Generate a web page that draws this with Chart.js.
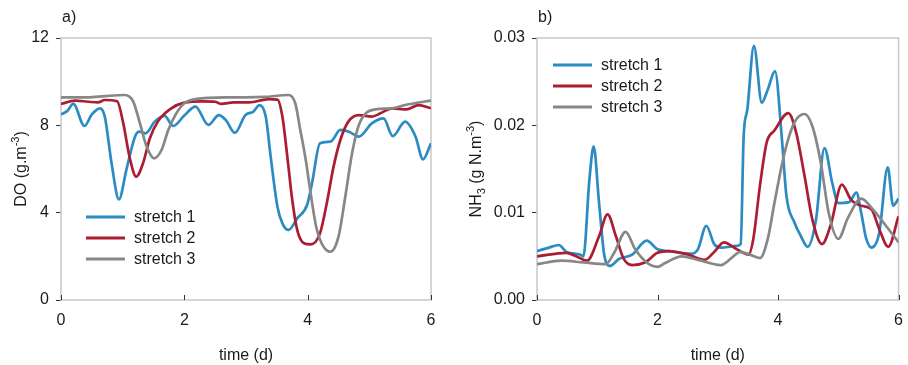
<!DOCTYPE html>
<html>
<head>
<meta charset="utf-8">
<script src="https://cdn.jsdelivr.net/npm/chart.js@4.4.1/dist/chart.umd.min.js"></script>
<style>
  html, body { margin: 0; padding: 0; background: #fff; overflow: hidden; width: 908px; height: 365px; }
  body { position: relative; }
  canvas { position: absolute; top: 0; }
  #chartDO { left: 0; }
  #chartNH3 { left: 454px; }
</style>
</head>
<body>
<canvas id="chartDO" width="454" height="365"></canvas>
<canvas id="chartNH3" width="460" height="365"></canvas>
<script>
const FONT = "'Liberation Sans', Arial, sans-serif";

const seriesNames = ['stretch 1', 'stretch 2', 'stretch 3'];
const seriesColors = ['#2b8bc3', '#ab1e31', '#878787'];

// time (d)
const timeMin = 0, timeMax = 6, timeStep = 2;

// a) DO (g.m-3)
const doMin = 0, doMax = 12, doStep = 4;
const doT1 = [0, 0.1, 0.2, 0.38, 0.5, 0.63, 0.71, 0.82, 0.94, 1.06, 1.2, 1.27, 1.37, 1.52, 1.68, 1.82, 2.0, 2.18, 2.39, 2.56, 2.67, 2.82, 2.99, 3.12, 3.22, 3.32, 3.4, 3.51, 3.59, 3.69, 3.83, 3.99, 4.07, 4.2, 4.37, 4.53, 4.67, 4.83, 5.04, 5.23, 5.38, 5.58, 5.75, 5.87, 6.0];
const doV1 = [8.5, 8.65, 8.98, 7.97, 8.5, 8.78, 8.4, 6.26, 4.61, 5.96, 7.48, 7.71, 7.63, 8.17, 8.43, 7.97, 8.45, 8.86, 8.02, 8.47, 8.25, 7.66, 8.47, 8.63, 8.93, 8.4, 6.57, 4.27, 3.51, 3.21, 3.74, 4.35, 5.34, 7.18, 7.25, 7.79, 7.71, 7.48, 8.09, 8.32, 7.51, 8.17, 7.48, 6.44, 7.18];
const doT2 = [0, 0.23, 0.44, 0.6, 0.71, 0.91, 1.01, 1.11, 1.22, 1.33, 1.44, 1.57, 1.79, 2.0, 2.3, 2.5, 2.6, 2.8, 3.05, 3.37, 3.51, 3.59, 3.67, 3.75, 3.83, 3.94, 4.05, 4.2, 4.31, 4.42, 4.53, 4.66, 4.83, 5.04, 5.18, 5.37, 5.6, 5.8, 6.0];
const doV2 = [8.98, 9.13, 9.08, 9.05, 9.16, 9.1, 8.09, 6.57, 5.65, 6.26, 7.4, 8.17, 8.78, 9.04, 9.1, 9.08, 8.98, 9.05, 9.05, 9.2, 9.18, 8.4, 6.57, 4.58, 3.21, 2.6, 2.55, 3.05, 4.43, 6.11, 7.33, 8.17, 8.47, 8.4, 8.55, 8.78, 8.73, 8.93, 8.78];
const doT3 = [0, 0.44, 0.71, 1.03, 1.17, 1.28, 1.39, 1.51, 1.63, 1.74, 1.87, 2.0, 2.18, 2.77, 3.3, 3.69, 3.8, 3.88, 3.97, 4.04, 4.15, 4.37, 4.5, 4.61, 4.72, 4.83, 4.94, 5.1, 5.37, 5.58, 6.0];
const doV3 = [9.28, 9.28, 9.34, 9.39, 9.1, 8.09, 7.02, 6.49, 6.87, 7.79, 8.55, 9.01, 9.2, 9.28, 9.3, 9.39, 9.0, 7.79, 6.4, 5.04, 3.21, 2.21, 2.9, 4.73, 6.72, 8.02, 8.55, 8.73, 8.78, 8.93, 9.13];

// b) NH3 (g N.m-3)
const nhMin = 0, nhMax = 0.03, nhStep = 0.01;
const nhT1 = [0, 0.2, 0.36, 0.49, 0.71, 0.77, 0.87, 0.94, 1.03, 1.12, 1.21, 1.36, 1.58, 1.82, 2.0, 2.18, 2.56, 2.67, 2.81, 2.94, 3.05, 3.32, 3.38, 3.43, 3.49, 3.6, 3.73, 3.83, 3.95, 4.06, 4.14, 4.27, 4.38, 4.49, 4.63, 4.77, 4.9, 5.0, 5.18, 5.3, 5.38, 5.46, 5.55, 5.68, 5.82, 5.91, 6.0];
const nhV1 = [0.0056, 0.006, 0.0063, 0.0055, 0.0052, 0.005, 0.0138, 0.0176, 0.0111, 0.005, 0.0039, 0.0047, 0.0052, 0.0068, 0.0058, 0.0056, 0.0053, 0.0058, 0.0085, 0.0064, 0.006, 0.0062, 0.0064, 0.0188, 0.0218, 0.0291, 0.0226, 0.0241, 0.0262, 0.0188, 0.0119, 0.0089, 0.0073, 0.0061, 0.0092, 0.0174, 0.0134, 0.0111, 0.0112, 0.0123, 0.01, 0.0071, 0.006, 0.0077, 0.0152, 0.0108, 0.0116];
const nhT2 = [0, 0.49, 0.65, 0.83, 1.03, 1.17, 1.31, 1.44, 1.58, 1.79, 2.0, 2.18, 2.51, 2.78, 2.94, 3.1, 3.32, 3.51, 3.59, 3.7, 3.81, 3.94, 4.17, 4.3, 4.44, 4.57, 4.73, 4.87, 5.06, 5.21, 5.38, 5.55, 5.68, 5.83, 6.0];
const nhV2 = [0.005, 0.0054, 0.005, 0.0045, 0.0073, 0.0098, 0.0073, 0.0047, 0.004, 0.0043, 0.0054, 0.0056, 0.0052, 0.0046, 0.0055, 0.0066, 0.0058, 0.0052, 0.007, 0.0131, 0.018, 0.0194, 0.0214, 0.0192, 0.0142, 0.0092, 0.0064, 0.0085, 0.0132, 0.0115, 0.0108, 0.0104, 0.0081, 0.0061, 0.0096];
const nhT3 = [0, 0.4, 0.77, 1.14, 1.28, 1.47, 1.63, 1.82, 2.0, 2.12, 2.4, 2.67, 3.05, 3.26, 3.37, 3.53, 3.7, 3.83, 3.94, 4.11, 4.27, 4.44, 4.57, 4.71, 4.84, 5.0, 5.16, 5.38, 5.57, 5.79, 6.0];
const nhV3 = [0.0041, 0.0045, 0.0043, 0.0041, 0.0054, 0.0078, 0.0058, 0.0043, 0.0038, 0.0042, 0.005, 0.0046, 0.004, 0.005, 0.0055, 0.0052, 0.0048, 0.007, 0.0111, 0.0169, 0.0203, 0.0213, 0.0199, 0.0157, 0.01, 0.007, 0.0094, 0.0116, 0.0104, 0.0085, 0.0066];

function pts(ts, vs) {
    return ts.map((t, i) => ({ x: t, y: vs[i] }));
}

function datasets(seriesT, seriesV) {
    return seriesT.map((ts, i) => ({
        label: seriesNames[i],
        data: pts(ts, seriesV[i]),
        borderColor: seriesColors[i],
        borderWidth: 2.7,
        pointRadius: 0,
        fill: false,
        cubicInterpolationMode: 'monotone',
        order: 3 - i
    }));
}

/* Plugin: frame, inner x ticks, rotated y title, panel label, legend */

const decorPlugin = {
    id: 'decor',
    beforeDatasetsDraw(chart) {
        const { ctx, chartArea: a } = chart;
        ctx.save();
        ctx.strokeStyle = '#c8c8c8';
        ctx.lineWidth = 1.5;
        ctx.strokeRect(a.left, a.top, a.right - a.left, a.bottom - a.top);
        ctx.restore();
    },
    afterDraw(chart, args, opts) {
        const { ctx, chartArea: a, scales } = chart;
        ctx.save();

        // x ticks pointing up into the plot
        ctx.strokeStyle = '#333';
        ctx.lineWidth = 1;
        scales.x.ticks.forEach(t => {
            const px = Math.round(scales.x.getPixelForValue(t.value)) + 0.5;
            ctx.beginPath();
            ctx.moveTo(px, a.bottom);
            ctx.lineTo(px, a.bottom - 5);
            ctx.stroke();
        });

        ctx.fillStyle = '#1a1a1a';

        // panel label
        ctx.font = '16px ' + FONT;
        ctx.textBaseline = 'middle';
        ctx.textAlign = 'left';
        ctx.fillText(opts.panel, a.left + 1, 18);

        // y title with sub/superscripts
        const parts = opts.yTitle;
        ctx.textBaseline = 'alphabetic';
        let total = 0;
        parts.forEach(p => {
            ctx.font = p.size + 'px ' + FONT;
            p.w = ctx.measureText(p.text).width;
            total += p.w;
        });
        ctx.translate(opts.yTitleX, (a.top + a.bottom) / 2);
        ctx.rotate(-Math.PI / 2);
        let x = -total / 2;
        parts.forEach(p => {
            ctx.font = p.size + 'px ' + FONT;
            ctx.fillText(p.text, x, p.dy);
            x += p.w;
        });
        ctx.setTransform(1, 0, 0, 1, 0, 0);

        // legend
        const lg = opts.legend;
        ctx.font = '16px ' + FONT;
        ctx.textBaseline = 'middle';
        chart.data.datasets.forEach((ds, i) => {
            const y = a.top + lg.y + i * 21;
            ctx.strokeStyle = ds.borderColor;
            ctx.lineWidth = 2.8;
            ctx.beginPath();
            ctx.moveTo(a.left + lg.x, y);
            ctx.lineTo(a.left + lg.x + 39, y);
            ctx.stroke();
            ctx.fillStyle = '#1a1a1a';
            ctx.fillText(ds.label, a.left + lg.x + 48, y + 1);
        });
        ctx.restore();
    }
};

function makeChart(id, cfg) {
    return new Chart(document.getElementById(id), {
        type: 'line',
        data: { datasets: datasets(cfg.t, cfg.v) },
        options: {
            responsive: false,
            animation: false,
            events: [],
            layout: { padding: { top: 38, right: cfg.padRight, left: 0, bottom: 0 } },
            plugins: {
                legend: { display: false },
                tooltip: { enabled: false },
                decor: cfg.decor
            },
            scales: {
                x: {
                    type: 'linear',
                    min: timeMin,
                    max: timeMax,
                    ticks: { stepSize: timeStep, padding: 11, color: '#1a1a1a', font: { family: FONT, size: 16 } },
                    grid: { display: true, drawOnChartArea: false, drawTicks: false },
                    border: { display: false },
                    title: { display: true, text: 'time (d)', color: '#1a1a1a', font: { family: FONT, size: 16 }, padding: { top: 0, bottom: 0 } },
                    afterFit: s => { s.height = 65; }
                },
                y: {
                    min: cfg.yMin,
                    max: cfg.yMax,
                    ticks: { stepSize: cfg.yStep, padding: 7, color: '#1a1a1a', font: { family: FONT, size: 16 }, callback: cfg.fmt },
                    grid: { drawOnChartArea: false, drawTicks: true, tickLength: 5, color: '#333' },
                    border: { display: false },
                    afterFit: s => { s.width = cfg.yWidth; }
                }
            }
        },
        plugins: [decorPlugin]
    });
}

makeChart('chartDO', {
    t: [doT1, doT2, doT3],
    v: [doV1, doV2, doV3],
    yMin: doMin, yMax: doMax, yStep: doStep,
    fmt: v => String(v),
    yWidth: 61,
    padRight: 23,
    decor: {
        panel: 'a)',
        yTitleX: 26,
        yTitle: [
            { text: 'DO (g.m', size: 16, dy: 0 },
            { text: '-3', size: 11, dy: -7 },
            { text: ')', size: 16, dy: 0 }
        ],
        legend: { x: 25, y: 179 }
    }
});

makeChart('chartNH3', {
    t: [nhT1, nhT2, nhT3],
    v: [nhV1, nhV2, nhV3],
    yMin: nhMin, yMax: nhMax, yStep: nhStep,
    fmt: v => v.toFixed(2),
    yWidth: 83,
    padRight: 8,
    decor: {
        panel: 'b)',
        yTitleX: 27,
        yTitle: [
            { text: 'NH', size: 16, dy: 0 },
            { text: '3', size: 11, dy: 4 },
            { text: ' (g N.m', size: 16, dy: 0 },
            { text: '-3', size: 11, dy: -7 },
            { text: ')', size: 16, dy: 0 }
        ],
        legend: { x: 16, y: 27 }
    }
});
</script>
</body>
</html>
